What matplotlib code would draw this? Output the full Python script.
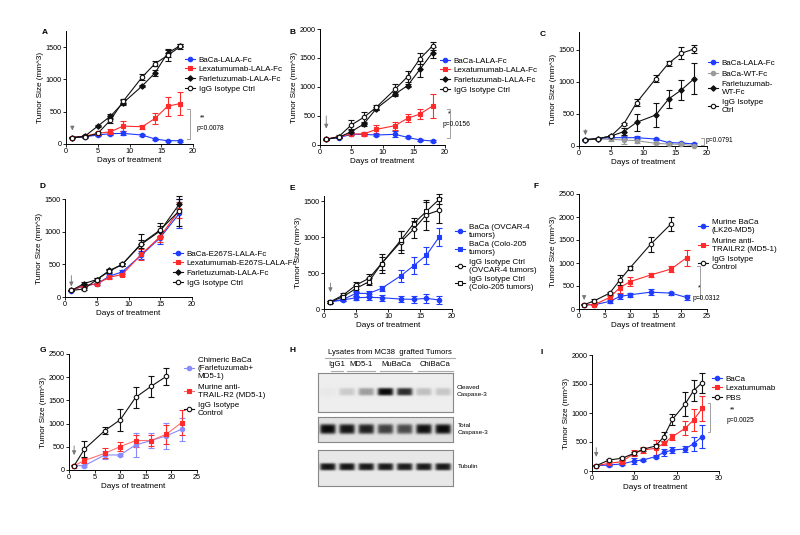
import numpy as np
import matplotlib
matplotlib.use("Agg")
import matplotlib.pyplot as plt
from matplotlib.lines import Line2D

plt.rcParams['font.family'] = ['Liberation Sans', 'DejaVu Sans']

W, H = 800, 535
BLUE = '#1f3cff'
RED = '#ff2a2a'
BLACK = '#111111'
GREY = '#9a9a9a'
LBLUE = '#8a8aff'

# ---------------- data ----------------
A_days = [1, 3, 5, 7, 9, 12, 14, 16, 18]
A_baca = [100, 113, 139, 160, 164, 139, 77, 51, 51]
A_baca_e = [10, 10, 15, 20, 30, 15, 15, 10, 15]
A_lexa = [100, 123, 164, 190, 277, 267, 395, 585, 627]
A_lexa_e = [10, 15, 20, 40, 80, 30, 90, 150, 180]
A_farle = [100, 123, 277, 431, 637, 899, 1099, 1407, 1525]
A_farle_e = [10, 10, 20, 40, 40, 20, 40, 60, 30]
A_igg = [100, 110, 164, 370, 662, 1037, 1243, 1371, 1510]
A_igg_e = [10, 10, 20, 40, 40, 40, 40, 80, 40]

B_days = [1, 3, 5, 7, 9, 12, 14, 16, 18]
B_baca = [103, 126, 184, 184, 172, 184, 132, 86, 69]
B_baca_e = [10, 10, 15, 15, 20, 50, 15, 10, 10]
B_lexa = [100, 144, 190, 190, 270, 333, 460, 534, 672]
B_lexa_e = [10, 15, 20, 30, 70, 70, 70, 80, 200]
B_farle = [100, 132, 230, 362, 626, 879, 1023, 1305, 1592]
B_farle_e = [10, 15, 40, 40, 30, 30, 30, 140, 90]
B_igg = [100, 144, 345, 477, 649, 960, 1178, 1489, 1707]
B_igg_e = [10, 20, 80, 90, 40, 100, 100, 90, 70]

C_days = [1, 3, 5, 7, 9, 12, 14, 16, 18]
C_baca = [94, 115, 130, 130, 130, 109, 52, 47, 31]
C_baca_e = [10, 10, 10, 20, 25, 15, 10, 10, 10]
C_wt = [94, 109, 104, 94, 83, 42, 31, 26, 5]
C_wt_e = [10, 10, 30, 60, 40, 15, 10, 10, 5]
C_farle = [100, 115, 156, 224, 370, 484, 734, 875, 1052]
C_farle_e = [10, 10, 20, 60, 130, 180, 140, 150, 240]
C_igg = [100, 115, 156, 344, 677, 1052, 1292, 1448, 1516]
C_igg_e = [10, 10, 15, 20, 50, 60, 40, 90, 60]

D_days = [1, 3, 5, 7, 9, 12, 15, 18]
D_baca = [98, 175, 200, 318, 385, 637, 909, 1279]
D_baca_e = [10, 20, 20, 30, 30, 60, 100, 220]
D_lexa = [100, 175, 200, 303, 344, 652, 925, 1330]
D_lexa_e = [10, 20, 20, 20, 30, 80, 90, 120]
D_farle = [100, 205, 267, 406, 498, 806, 1012, 1422]
D_farle_e = [10, 20, 20, 20, 30, 60, 80, 80]
D_igg = [100, 123, 267, 395, 498, 817, 1027, 1320]
D_igg_e = [10, 10, 20, 30, 30, 140, 110, 230]

E_days = [1, 3, 5, 7, 9, 12, 14, 16, 18]
E_ovcar = [100, 125, 157, 162, 157, 138, 134, 148, 125]
E_ovcar_e = [10, 20, 30, 40, 40, 40, 50, 60, 50]
E_colo = [100, 134, 217, 217, 286, 462, 600, 748, 1001]
E_colo_e = [10, 20, 30, 30, 40, 80, 120, 120, 130]
E_igg_ov = [100, 194, 332, 425, 632, 932, 1108, 1311, 1371]
E_igg_ov_e = [10, 30, 50, 60, 130, 150, 120, 210, 170]
E_igg_colo = [100, 171, 286, 378, 632, 955, 1186, 1357, 1523]
E_igg_colo_e = [10, 30, 50, 50, 90, 130, 80, 130, 70]

F_days = [1, 3, 6, 8, 10, 14, 18, 21]
F_baca = [93, 93, 165, 273, 309, 366, 345, 251]
F_baca_e = [10, 10, 40, 60, 40, 60, 30, 60]
F_md5 = [93, 93, 251, 467, 596, 740, 869, 1113]
F_md5_e = [10, 10, 40, 120, 100, 40, 70, 180]
F_igg_days = [1, 3, 6, 8, 10, 14, 18]
F_igg = [93, 180, 345, 632, 898, 1408, 1853]
F_igg_e = [10, 30, 30, 100, 40, 160, 150]

G_days = [1, 3, 7, 10, 13, 16, 19, 22]
G_chim = [94, 94, 324, 324, 540, 634, 735, 879]
G_chim_e = [10, 20, 80, 30, 250, 170, 280, 250]
G_md5 = [94, 202, 360, 504, 634, 634, 771, 1023]
G_md5_e = [10, 60, 110, 100, 130, 110, 200, 270]
G_igg_days = [1, 3, 7, 10, 13, 16, 19]
G_igg = [94, 447, 850, 1081, 1563, 1801, 2017]
G_igg_e = [10, 170, 70, 230, 220, 220, 180]

I_days = [1, 4, 7, 10, 12, 15, 17, 19, 22, 24, 26]
I_baca = [92, 103, 121, 172, 190, 247, 322, 362, 379, 471, 592]
I_baca_e = [10, 10, 20, 50, 20, 30, 60, 60, 50, 120, 200]
I_lexa = [92, 132, 161, 305, 362, 391, 477, 592, 736, 879, 1080]
I_lexa_e = [10, 20, 20, 50, 50, 140, 30, 50, 120, 190, 220]
I_pbs = [92, 190, 218, 305, 374, 431, 592, 891, 1155, 1385, 1523]
I_pbs_e = [10, 20, 20, 30, 30, 40, 80, 100, 200, 180, 170]

# Western blot (panel H) band intensities, 7 lanes
H_groups = ['IgG1', 'MD5-1', 'MuBaCa', 'ChiBaCa']
H_cleaved = [0.02, 0.15, 0.35, 1.0, 0.85, 0.2, 0.17]
H_total = [1.0, 0.95, 0.9, 0.75, 0.7, 0.97, 1.0]
H_tubulin = [0.95, 0.95, 0.93, 0.93, 0.92, 0.93, 0.93]

# ---------------- figure ----------------
fig = plt.figure(figsize=(W / 100, H / 100), dpi=100)
fig.patch.set_facecolor('white')


def px_axes(l, t, r, b):
    return fig.add_axes([l / W, 1 - b / H, (r - l) / W, (b - t) / H])


def style(ax, xmax, xstep, ymax, ystep, ylim_top):
    ax.set_xlim(0, xmax)
    ax.set_ylim(0, ylim_top)
    ax.set_xticks(np.arange(0, xmax + 0.1, xstep))
    ax.set_yticks(np.arange(0, ymax + 1, ystep))
    for s in ['top', 'right']:
        ax.spines[s].set_visible(False)
    for s in ['left', 'bottom']:
        ax.spines[s].set_linewidth(0.7)
    ax.tick_params(labelsize=5.2, width=0.6, length=2, pad=1)
    ax.set_xlabel('Days of treatment', fontsize=5.9, labelpad=1.5)
    ax.set_ylabel('Tumor Size (mm^3)', fontsize=5.9, labelpad=1.5)


def series(ax, x, y, e, color, marker, mfc=None, lc=None, ms=3.2):
    ax.errorbar(x, y, yerr=e, color=lc or color, ecolor=color, marker=marker,
                markersize=ms, markerfacecolor=mfc or color, markeredgecolor=color,
                markeredgewidth=0.8, linewidth=0.8, elinewidth=0.8, capsize=2,
                capthick=0.8, clip_on=False, zorder=3)
    return Line2D([], [], color=lc or color, marker=marker, markersize=ms,
                  markerfacecolor=mfc or color, markeredgecolor=color,
                  markeredgewidth=0.8, linewidth=0.8)


def arrow(ax, top, tip):
    ax.annotate('', xy=(1, tip), xytext=(1, top),
                arrowprops=dict(arrowstyle='-|>,head_length=0.25,head_width=0.12',
                                color='#777777', lw=0.6))


def legend(ax, handles, labels, x, y, spacing=0.25):
    ax.legend(handles, labels, loc='upper left', bbox_to_anchor=(x / W, 1 - y / H),
              bbox_transform=fig.transFigure, frameon=False, fontsize=5.8,
              handlelength=1.3, handletextpad=0.4, labelspacing=spacing,
              borderaxespad=0, borderpad=0)


def bracket(ax, xb, ytop, ybot, star, ptxt, tx, ty):
    ax.plot([xb - 0.5, xb, xb, xb - 0.5], [ytop, ytop, ybot, ybot],
            color='#a0a0a0', lw=0.7, clip_on=False)
    if star:
        fig.text(tx / W, 1 - (ty - 9) / H, star, fontsize=5, ha='center')
    fig.text((tx - 6) / W, 1 - ty / H, ptxt, fontsize=4.8, ha='left', va='center')


def letter(ch, x, y):
    fig.text(x / W, 1 - y / H, ch, fontsize=6, fontweight='bold', ha='center', va='center')


# ---- A ----
ax = px_axes(66, 31, 193, 144)
style(ax, 20, 5, 1500, 500, 1750)
h = [series(ax, A_days, A_baca, A_baca_e, BLUE, 'o'),
     series(ax, A_days, A_lexa, A_lexa_e, RED, 's', ms=2.6),
     series(ax, A_days, A_farle, A_farle_e, BLACK, 'D', ms=2.8),
     series(ax, A_days, A_igg, A_igg_e, BLACK, 'o', mfc='white')]
legend(ax, h, ['BaCa-LALA-Fc', 'Lexatumumab-LALA-Fc', 'Farletuzumab-LALA-Fc', 'IgG Isotype Ctrl'], 185, 56)
arrow(ax, 320, 165)
bracket(ax, 19.6, A_lexa[-1] - 90, A_baca[-1] + 30, '**', 'p=0.0078', 203, 128)
letter('A', 45, 33)

# ---- B ----
ax = px_axes(320, 29, 445, 145)
style(ax, 20, 5, 2000, 500, 2000)
h = [series(ax, B_days, B_baca, B_baca_e, BLUE, 'o'),
     series(ax, B_days, B_lexa, B_lexa_e, RED, 's', ms=2.6),
     series(ax, B_days, B_farle, B_farle_e, BLACK, 'D', ms=2.8),
     series(ax, B_days, B_igg, B_igg_e, BLACK, 'o', mfc='white')]
legend(ax, h, ['BaCa-LALA-Fc', 'Lexatumumab-LALA-Fc', 'Farletuzumab-LALA-Fc', 'IgG Isotype Ctrl'], 440, 57)
arrow(ax, 550, 235)
bracket(ax, 20.8, B_lexa[-1] - 50, B_baca[-1] + 60, '*', 'p=0.0156', 449, 124)
letter('B', 292, 33)

# ---- C ----
ax = px_axes(579, 32, 707, 146)
style(ax, 20, 5, 1500, 500, 1780)
h = [series(ax, C_days, C_baca, C_baca_e, BLUE, 'o'),
     series(ax, C_days, C_wt, C_wt_e, GREY, 'o'),
     series(ax, C_days, C_farle, C_farle_e, BLACK, 'D', ms=2.8),
     series(ax, C_days, C_igg, C_igg_e, BLACK, 'o', mfc='white')]
legend(ax, h, ['BaCa-LALA-Fc', 'BaCa-WT-Fc', 'Farletuzumab-\nWT-Fc', 'IgG Isotype\nCtrl'], 708, 59, spacing=0.4)
arrow(ax, 300, 125)
bracket(ax, 19.6, C_baca[-1] + 100, C_baca[-1] - 10, None, 'p=0.0791', 712, 140)
letter('C', 543, 34)

# ---- D ----
ax = px_axes(65, 199, 192, 297)
style(ax, 20, 5, 1500, 500, 1500)
h = [series(ax, D_days, D_baca, D_baca_e, BLUE, 'o'),
     series(ax, D_days, D_lexa, D_lexa_e, RED, 's', ms=2.6),
     series(ax, D_days, D_farle, D_farle_e, BLACK, 'D', ms=2.8),
     series(ax, D_days, D_igg, D_igg_e, BLACK, 'o', mfc='white')]
legend(ax, h, ['BaCa-E267S-LALA-Fc', 'Lexatumumab-E267S-LALA-Fc', 'Farletuzumab-LALA-Fc', 'IgG Isotype Ctrl'], 173, 250)
arrow(ax, 370, 120)
letter('D', 42, 187)

# ---- E ----
ax = px_axes(324, 196, 452, 309)
style(ax, 20, 5, 1500, 500, 1570)
h = [series(ax, E_days, E_ovcar, E_ovcar_e, BLUE, 'o'),
     series(ax, E_days, E_colo, E_colo_e, BLUE, 's', ms=2.8),
     series(ax, E_days, E_igg_ov, E_igg_ov_e, BLACK, 'o', mfc='white'),
     series(ax, E_days, E_igg_colo, E_igg_colo_e, BLACK, 's', mfc='white', ms=3)]
legend(ax, h, ['BaCa (OVCAR-4\ntumors)', 'BaCa (Colo-205\ntumors)', 'IgG Isotype Ctrl\n(OVCAR-4 tumors)',
               'IgG Isotype Ctrl\n(Colo-205 tumors)'], 455, 224, spacing=0.3)
arrow(ax, 400, 195)
letter('E', 292, 188)

# ---- F ----
ax = px_axes(579, 194, 707, 309)
style(ax, 25, 5, 2500, 500, 2500)
h = [series(ax, F_days, F_baca, F_baca_e, BLUE, 'o'),
     series(ax, F_days, F_md5, F_md5_e, RED, 's', ms=2.6),
     series(ax, F_igg_days, F_igg, F_igg_e, BLACK, 'o', mfc='white')]
legend(ax, h, ['Murine BaCa\n(LK26-MD5)', 'Murine anti-\nTRAILR2 (MD5-1)', 'IgG Isotype\nControl'], 698, 219, spacing=0.45)
arrow(ax, 345, 135)
bracket(ax, 23.6, F_md5[-1] - 170, F_baca[-1] - 10, '*', 'p=0.0312', 699, 298)
letter('F', 536, 187)

# ---- G ----
ax = px_axes(69, 354, 197, 470)
style(ax, 25, 5, 2500, 500, 2500)
h = [series(ax, G_days, G_chim, G_chim_e, LBLUE, 'o'),
     series(ax, G_days, G_md5, G_md5_e, RED, 's', ms=2.6, lc='#ff7070'),
     series(ax, G_igg_days, G_igg, G_igg_e, BLACK, 'o', mfc='white')]
legend(ax, h, ['Chimeric BaCa\n(Farletuzumab+\nMD5-1)', 'Murine anti-\nTRAIL-R2 (MD5-1)', 'IgG Isotype\nControl'], 184, 357, spacing=0.45)
arrow(ax, 580, 260)
letter('G', 43, 350)

# ---- H (western blot) ----
letter('H', 293, 350)
nl = len(H_cleaved)
blot_l, blot_r = 318, 453


def blot(top, bot, vals, band_h, bg):
    a = px_axes(blot_l, top, blot_r, bot)
    nx, ny = 270, 80
    xx = np.linspace(0, 1, nx)[None, :]
    yy = np.linspace(0, 1, ny)[:, None]
    centers = (np.arange(nl) + 0.5) / nl
    dark = np.zeros((ny, nx))
    for c, v in zip(centers, vals):
        prof_x = 1 / (1 + np.exp((np.abs(xx - c) - 0.055) / 0.007))
        prof_y = np.exp(-((yy - 0.48) / band_h) ** 4)
        dark = np.maximum(dark, v * prof_x * prof_y)
    img = bg - dark * (bg - 0.04)
    img = np.clip(img, 0, 1)
    a.imshow(img, cmap='gray', vmin=0, vmax=1, aspect='auto', extent=[0, 1, 1, 0], interpolation='bilinear')
    a.set_xticks([])
    a.set_yticks([])
    for s in a.spines.values():
        s.set_linewidth(0.8)
        s.set_color('#888888')
    return a


blot(373, 412, H_cleaved, 0.1, 0.93)
blot(417, 442, H_total, 0.2, 0.88)
blot(450, 486, H_tubulin, 0.1, 0.91)
fig.text(457 / W, 1 - 391 / H, 'Cleaved\nCaspase-3', fontsize=4.6, va='center', ha='left', linespacing=1.3)
fig.text(458 / W, 1 - 429 / H, 'Total\nCaspase-3', fontsize=4.6, va='center', ha='left', linespacing=1.3)
fig.text(458 / W, 1 - 467 / H, 'Tubulin', fontsize=4.6, va='center', ha='left')
fig.text(390 / W, 1 - 352 / H, 'Lysates from MC38  grafted Tumors', fontsize=5.6, ha='center', va='center')
fig.add_artist(Line2D([325 / W, 455 / W], [1 - 358 / H, 1 - 358 / H], color='#aaaaaa', lw=0.8))
grp_spans = [(331, 343), (347, 375), (380, 412), (418, 453)]
for g, (x0, x1) in zip(H_groups, grp_spans):
    fig.text((x0 + x1) / 2 / W, 1 - 365 / H, g, fontsize=5.6, ha='center', va='center')
    fig.add_artist(Line2D([x0 / W, x1 / W], [1 - 371 / H, 1 - 371 / H], color='#aaaaaa', lw=0.8))

# ---- I ----
ax = px_axes(592, 355, 719, 471)
style(ax, 30, 10, 2000, 500, 2000)
h = [series(ax, I_days, I_baca, I_baca_e, BLUE, 'o'),
     series(ax, I_days, I_lexa, I_lexa_e, RED, 's', ms=2.6),
     series(ax, I_days, I_pbs, I_pbs_e, BLACK, 'o', mfc='white')]
legend(ax, h, ['BaCa', 'Lexatumumab', 'PBS'], 712, 375)
arrow(ax, 450, 195)
bracket(ax, 27.8, I_lexa[-1] + 90, I_baca[-1] + 80, '**', 'p=0.0025', 733, 420)
letter('I', 542, 352)

fig.savefig('out.png', dpi=100, facecolor='white')
